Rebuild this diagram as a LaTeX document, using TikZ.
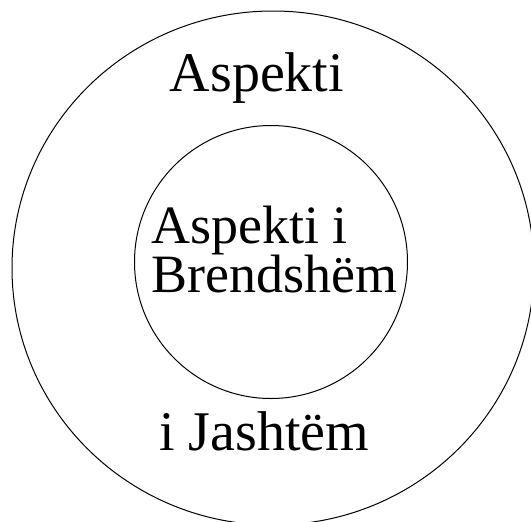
\documentclass[tikz,border=0pt]{standalone}
\usepackage{fontspec}
\setmainfont{Liberation Serif}
\usetikzlibrary{shapes.geometric}
\begin{document}
\begin{tikzpicture}[x=0.5pt, y=-0.5pt]
  \tikzset{
    ring/.style={draw, line width=0.5pt, inner sep=0pt},
    bigtext/.style={font=\fontsize{28}{28}\selectfont, inner sep=0pt, anchor=base},
    smalltext/.style={font=\fontsize{27}{24.5}\selectfont, inner sep=0pt, align=left}
  }
  \useasboundingbox (0,0) rectangle (531,521);
  % outer aspect
  \node[ring, ellipse, minimum width=261pt, minimum height=257pt] (outer) at (273,268) {};
  \node[bigtext] (outertop) at (257,91) {Aspekti};
  \node[bigtext] (outerbottom) at (264,450) {i Jashtëm};
  % inner aspect
  \node[ring, circle, minimum size=136.5pt] (inner) at (271,262) {};
  \node[smalltext, anchor=base west] (innertext) at (151,292) {Aspekti i\\Brendshëm};
\end{tikzpicture}
\end{document}
